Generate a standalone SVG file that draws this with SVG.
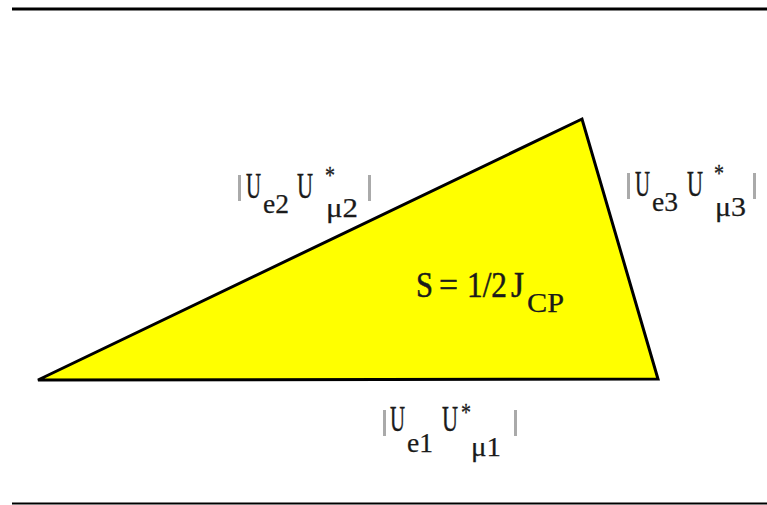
<svg xmlns="http://www.w3.org/2000/svg" width="767" height="505" viewBox="0 0 767 505">
<style>
.t{font-family:"Liberation Serif","Times New Roman",serif;fill:#1a1a1a;stroke:#1a1a1a;stroke-width:0.5;font-size:36px}
.s{font-size:27px;stroke-width:0.25}
.a{font-size:26px;stroke-width:0.3}
.bar{fill:#aaa}
</style>
<rect width="767" height="505" fill="#fff"/>
<line x1="12" y1="9" x2="767" y2="9" stroke="#000" stroke-width="3"/>
<line x1="12" y1="503.5" x2="767" y2="503.5" stroke="#000" stroke-width="2"/>
<g id="triangle">
<polygon points="38,380 582,119 658,379" fill="#ffff00" stroke="#000" stroke-width="3"/>
</g>
<g id="label-side2">
<rect class="bar" x="238" y="175" width="3" height="26"/>
<text class="t"><tspan x="246" y="198" textLength="15" lengthAdjust="spacingAndGlyphs">U</tspan><tspan class="s" x="263" y="213" textLength="26" lengthAdjust="spacingAndGlyphs">e2</tspan><tspan x="297" y="198" textLength="16" lengthAdjust="spacingAndGlyphs">U</tspan><tspan class="a" x="325" y="184" textLength="10" lengthAdjust="spacingAndGlyphs">*</tspan><tspan class="s" x="326" y="217" textLength="32" lengthAdjust="spacingAndGlyphs">μ2</tspan></text>
<rect class="bar" x="368" y="175" width="3" height="26"/>
</g>
<g id="label-side3">
<rect class="bar" x="627" y="173" width="3" height="26"/>
<text class="t"><tspan x="635" y="196" textLength="15" lengthAdjust="spacingAndGlyphs">U</tspan><tspan class="s" x="652" y="211" textLength="26" lengthAdjust="spacingAndGlyphs">e3</tspan><tspan x="687" y="196" textLength="16" lengthAdjust="spacingAndGlyphs">U</tspan><tspan class="a" x="714" y="182" textLength="10" lengthAdjust="spacingAndGlyphs">*</tspan><tspan class="s" x="715" y="216" textLength="31" lengthAdjust="spacingAndGlyphs">μ3</tspan></text>
<rect class="bar" x="753" y="173" width="3" height="26"/>
</g>
<g id="label-side1">
<rect class="bar" x="383" y="410" width="3" height="26"/>
<text class="t"><tspan x="390" y="431" textLength="15" lengthAdjust="spacingAndGlyphs">U</tspan><tspan class="s" x="407" y="452" textLength="26" lengthAdjust="spacingAndGlyphs">e1</tspan><tspan x="442" y="431" textLength="16" lengthAdjust="spacingAndGlyphs">U</tspan><tspan class="a" x="461" y="421" textLength="10" lengthAdjust="spacingAndGlyphs">*</tspan><tspan class="s" x="471" y="456" textLength="30" lengthAdjust="spacingAndGlyphs">μ1</tspan></text>
<rect class="bar" x="514" y="410" width="3" height="26"/>
</g>
<g id="label-area">
<text class="t"><tspan x="416" y="297" textLength="17" lengthAdjust="spacingAndGlyphs">S</tspan><tspan x="439" y="297" textLength="19" lengthAdjust="spacingAndGlyphs">=</tspan><tspan x="467" y="297" textLength="40" lengthAdjust="spacingAndGlyphs">1/2</tspan><tspan x="511" y="297" textLength="13" lengthAdjust="spacingAndGlyphs">J</tspan><tspan class="s" x="527" y="312" textLength="37" lengthAdjust="spacingAndGlyphs">CP</tspan></text>
</g>
</svg>
